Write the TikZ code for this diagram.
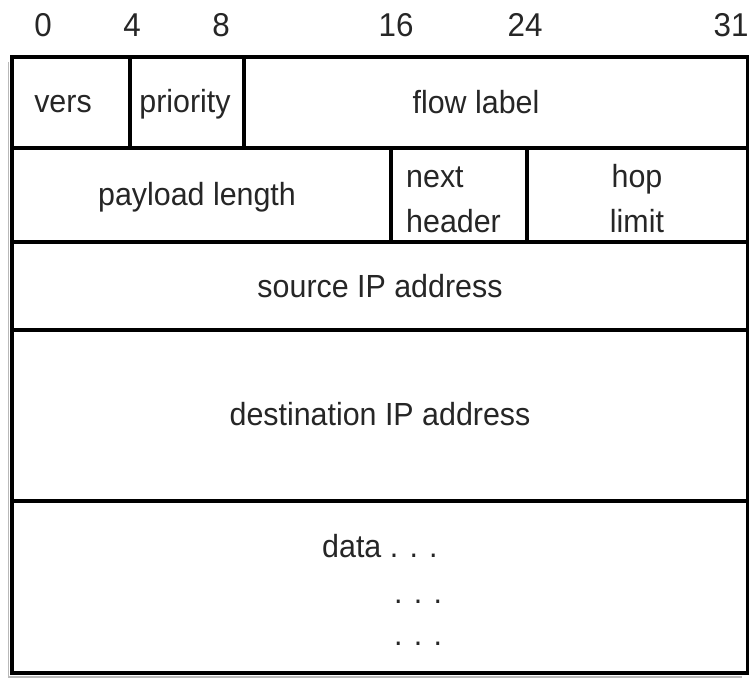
\documentclass[tikz,border=0pt]{standalone}
\usepackage{fontspec}
\setmainfont[FakeStretch=0.95]{Liberation Sans}
\begin{document}
\begin{tikzpicture}[x=1pt,y=-1pt,
  cell/.style={draw=black,line width=3.3pt,inner sep=0pt},
  bitnum/.style={inner sep=0pt,anchor=base,font=\fontsize{33}{38}\selectfont,text=black!85},
  txt/.style={inner sep=0pt,anchor=base,font=\fontsize{32}{38}\selectfont,text=black!85}]
\useasboundingbox[fill=white] (0,0) rectangle (749,679);
% shadow
\draw[gray!55,line width=1.6pt] (8.5,62) -- (8.5,677) -- (742,677);
% bit numbers
\node[bitnum] (b0) at (43,37) {0};
\node[bitnum] (b4) at (132,37) {4};
\node[bitnum] (b8) at (221,37) {8};
\node[bitnum] (b16) at (396,37) {16};
\node[bitnum] (b24) at (525,37) {24};
\node[bitnum] (b31) at (731,37) {31};
% row 1
\node[cell,minimum width=118pt,minimum height=91pt] (vers) at (71,102.5) {};
\node[cell,minimum width=114pt,minimum height=91pt] (prio) at (187,102.5) {};
\node[cell,minimum width=504pt,minimum height=91pt] (flow) at (496,102.5) {};
\node[txt] (verst) at (63,113) {vers};
\node[txt] (priot) at (185,113) {priority};
\node[txt] (flowt) at (476,114) {flow label};
% row 2
\node[cell,minimum width=379pt,minimum height=94pt] (plen) at (201.5,195) {};
\node[cell,minimum width=136pt,minimum height=94pt] (nhdr) at (459,195) {};
\node[cell,minimum width=221pt,minimum height=94pt] (hop) at (637.5,195) {};
\node[txt] (plent) at (197,205) {payload length};
\node[txt,anchor=base west] (nextt) at (406,187) {next};
\node[txt,anchor=base west] (hdrt) at (406,232) {header};
\node[txt] (hopt) at (637,187) {hop};
\node[txt] (limt) at (637,232) {limit};
% row 3
\node[cell,minimum width=736pt,minimum height=88pt] (src) at (380,286) {};
\node[txt] (srct) at (380,297) {source IP address};
% row 4
\node[cell,minimum width=736pt,minimum height=171pt] (dst) at (380,415.5) {};
\node[txt] (dstt) at (380,425) {destination IP address};
% row 5
\node[cell,minimum width=736pt,minimum height=172pt] (data) at (380,587) {};
\node[txt,anchor=base west] (datat) at (322,557) {data . . .};
\node[txt,anchor=base west] (dots1) at (394,603) {. . .};
\node[txt,anchor=base west] (dots2) at (394,645) {. . .};
\end{tikzpicture}
\end{document}
